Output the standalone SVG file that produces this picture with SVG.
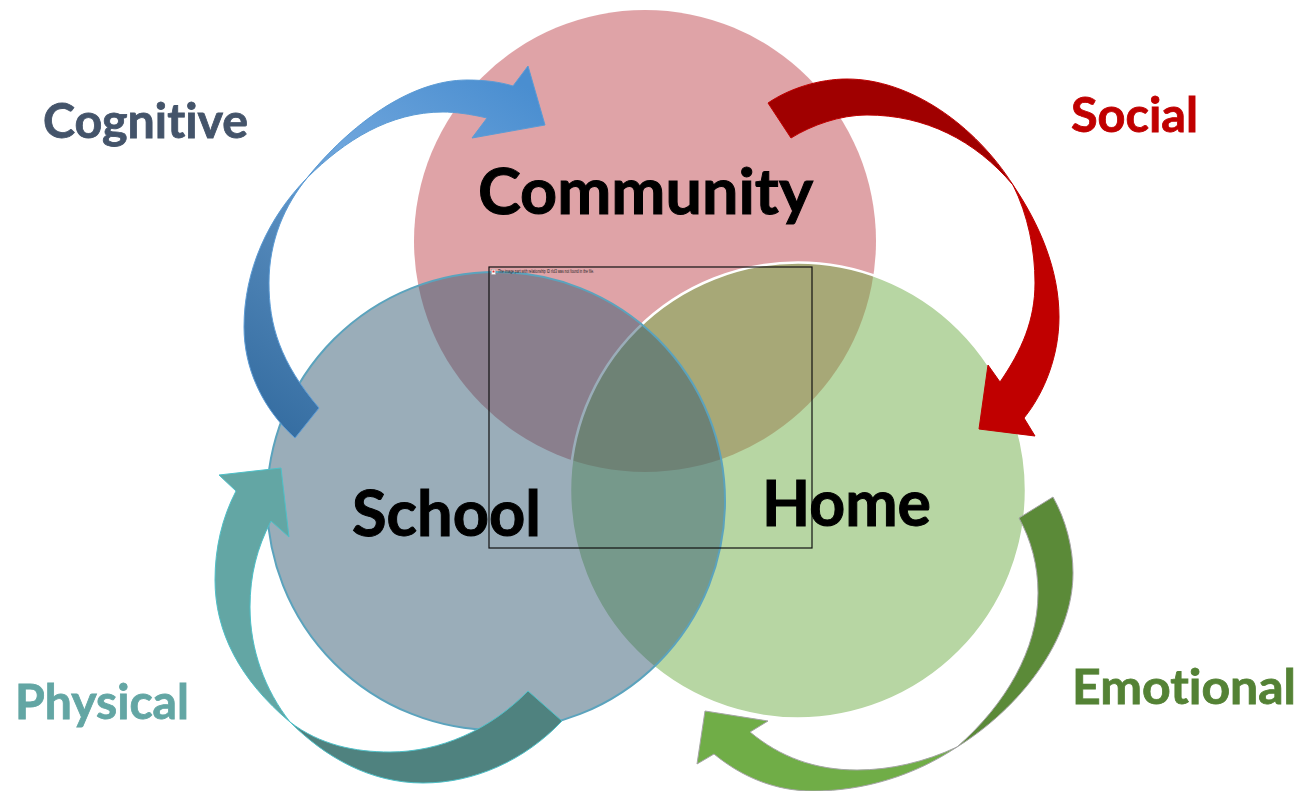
<svg xmlns="http://www.w3.org/2000/svg" width="1304" height="791" viewBox="0 0 1304 791">
<style>
text{font-family:"Lato","Carlito","Liberation Sans",sans-serif;font-weight:700;font-variant-ligatures:none}
.big{font-size:64px;fill:#000;stroke:#000;stroke-width:1}
.lab{font-size:48px;stroke-width:.8}
.arrow{stroke-width:1;stroke-linejoin:miter}
</style>
<defs>
<linearGradient id="gCog" gradientUnits="userSpaceOnUse" x1="295" y1="438" x2="545" y2="100">
<stop offset="0" stop-color="#366ea2"/><stop offset=".35" stop-color="#5186b8"/><stop offset=".62" stop-color="#6ea5dc"/><stop offset="1" stop-color="#4a8ed0"/>
</linearGradient>
</defs>
<rect width="1304" height="791" fill="#fff"/>
<g id="node-community"><circle cx="645" cy="241" r="231" fill="#c0474f" fill-opacity=".5"/></g>
<g id="node-home"><circle cx="798" cy="490.500" r="228" fill="#70ad47" fill-opacity=".5" stroke="#fff" stroke-width="2.500"/></g>
<g id="node-school"><circle cx="496" cy="501" r="229" fill="#355b73" fill-opacity=".5" stroke="#5ba3bd" stroke-width="2"/></g>
<g id="placeholder">
<rect x="489" y="267" width="323" height="281" fill="none" stroke="#111" stroke-width="1.200"/>
<rect x="491.500" y="269.500" width="4" height="5" fill="#fff" stroke="#999" stroke-width=".4"/>
<rect x="492.500" y="270.500" width="2" height="2" fill="#d33"/>
<text x="498" y="272.600" style="font-family:'Liberation Sans',sans-serif;font-weight:400;font-size:4.500px" fill="#222" textLength="96" lengthAdjust="spacingAndGlyphs">The image part with relationship ID rId3 was not found in the file.</text>
</g>
<g id="connectors">
<path id="arrow-cognitive" class="arrow" fill="url(#gCog)" stroke="#5b9bd5" d="M295,438 C262,408 244,368 244,327 C244,270 268,218 307,178 C350,125 410,80 467,80 C485,80 500,82 513,86 L528,66 L545,125 L472,138 L487,118 C470,114 455,112 443,112 C390,112 345,140 307,178 C285,205 269,240 269,283 C269,325 280,362 319,408 Z"/>
<path id="arrow-social-a" class="arrow" fill="#a00000" stroke="#c00000" d="M768,103 C790,88 820,79 847,79 C910,79 975,125 1013,185 C975,140 925,115 867,115 C840,115 812,125 791,138 Z"/>
<path id="arrow-social-b" class="arrow" fill="#c00000" stroke="#c00000" d="M1013,185 C1040,225 1059,270 1059,317 C1059,355 1045,392 1024,418 L1035,436 L979,429 L988,365 L1000,382 C1022,350 1035,320 1035,283 C1035,250 1028,215 1013,185 Z"/>
<path id="arrow-emotional-a" class="arrow" fill="#5b8a38" stroke="#a5a5a5" d="M1053,497 C1066,520 1073,548 1073,573 C1073,640 1020,708 957,747 C1005,705 1038,650 1038,593 C1038,565 1031,540 1019,518 Z"/>
<path id="arrow-emotional-b" class="arrow" fill="#70ad47" stroke="#a5a5a5" d="M957,747 C915,775 865,791 813,791 C775,791 742,777 714,754 L697,764 L705,711 L768,721 L750,732 C780,757 815,770 857,770 C890,770 925,762 957,747 Z"/>
<path id="arrow-physical-a" class="arrow" fill="#63a6a4" stroke="#4ec0c8" d="M236,491 L219,475 L281,468 L289,537 L271,521 C257,548 250,575 250,607 C250,650 265,690 290,722 C240,680 215,632 215,580 C215,548 222,518 236,491 Z"/>
<path id="arrow-physical-b" class="arrow" fill="#4f827f" stroke="#4ec0c8" d="M290,722 C320,745 355,752 390,752 C440,752 490,730 528,691 L562,721 C525,760 475,783 423,783 C370,783 325,757 290,722 Z"/>
</g>
<g id="labels">
<text class="big" x="478" y="214" textLength="335" lengthAdjust="spacingAndGlyphs">Community</text>
<text class="big" x="352" y="536" textLength="189" lengthAdjust="spacingAndGlyphs">School</text>
<text class="big" x="762" y="526" textLength="169" lengthAdjust="spacingAndGlyphs">Home</text>
<text class="lab" x="43" y="138" fill="#44546a" stroke="#44546a" textLength="205" lengthAdjust="spacingAndGlyphs">Cognitive</text>
<text class="lab" x="1071" y="132" fill="#c00000" stroke="#c00000" textLength="127" lengthAdjust="spacingAndGlyphs">Social</text>
<text class="lab" x="15" y="719" fill="#63a6a4" stroke="#63a6a4" textLength="174" lengthAdjust="spacingAndGlyphs">Physical</text>
<text class="lab" x="1072" y="704" fill="#548235" stroke="#548235" textLength="224" lengthAdjust="spacingAndGlyphs">Emotional</text>
</g>
</svg>
